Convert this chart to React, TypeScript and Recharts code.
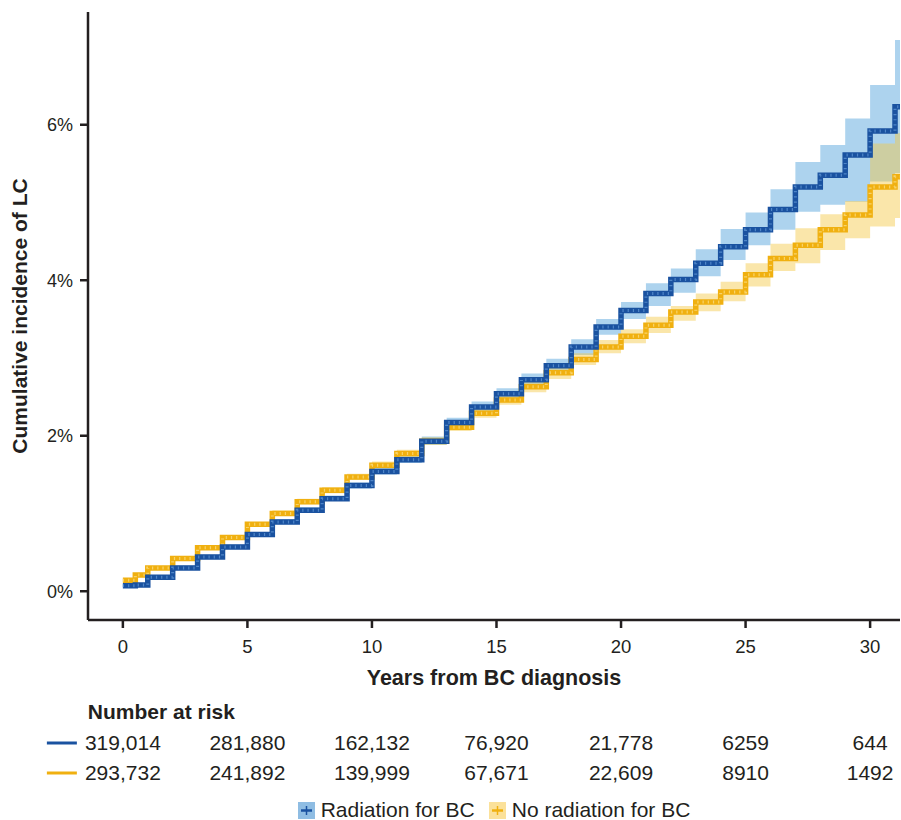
import { ComposedChart, Area, Line, XAxis, YAxis, Legend } from "recharts";

const YEARS = [0, 0.5, 1, 2, 3, 4, 5, 6, 7, 8, 9, 10, 11, 12, 13, 14, 15, 16, 17, 18, 19, 20, 21, 22, 23, 24, 25, 26, 27, 28, 29, 30, 31, 31.2];

// cumulative incidence (%) - radiation for BC
const RAD = [0.07, 0.08, 0.18, 0.3, 0.44, 0.57, 0.73, 0.89, 1.04, 1.19, 1.36, 1.54, 1.69, 1.93, 2.17, 2.37, 2.54, 2.72, 2.9, 3.14, 3.4, 3.61, 3.83, 4.01, 4.22, 4.43, 4.65, 4.91, 5.2, 5.35, 5.61, 5.92, 6.23, 6.23];
const RAD_LO = [0.05, 0.06, 0.16, 0.28, 0.42, 0.55, 0.7, 0.86, 1.01, 1.16, 1.32, 1.5, 1.65, 1.88, 2.12, 2.31, 2.47, 2.64, 2.81, 3.04, 3.3, 3.5, 3.67, 3.84, 4.05, 4.26, 4.45, 4.65, 4.88, 4.97, 5.01, 5.27, 5.38, 5.38];
const RAD_HI = [0.09, 0.1, 0.21, 0.33, 0.47, 0.6, 0.76, 0.93, 1.08, 1.23, 1.4, 1.59, 1.74, 1.99, 2.23, 2.44, 2.61, 2.8, 2.99, 3.24, 3.5, 3.72, 3.96, 4.15, 4.4, 4.66, 4.87, 5.17, 5.52, 5.74, 6.08, 6.51, 7.09, 7.09];

// no radiation for BC
const NORAD = [0.14, 0.21, 0.3, 0.42, 0.56, 0.69, 0.86, 1.0, 1.15, 1.3, 1.47, 1.62, 1.77, 1.93, 2.11, 2.29, 2.46, 2.63, 2.81, 2.98, 3.14, 3.28, 3.42, 3.59, 3.72, 3.85, 4.07, 4.28, 4.45, 4.65, 4.84, 5.2, 5.33, 5.33];
const NORAD_LO = [0.12, 0.19, 0.28, 0.4, 0.53, 0.66, 0.83, 0.97, 1.12, 1.26, 1.43, 1.58, 1.73, 1.88, 2.06, 2.23, 2.4, 2.56, 2.73, 2.91, 3.06, 3.19, 3.32, 3.48, 3.6, 3.73, 3.92, 4.12, 4.22, 4.39, 4.54, 4.69, 4.8, 4.8];
const NORAD_HI = [0.16, 0.23, 0.32, 0.45, 0.59, 0.72, 0.89, 1.04, 1.19, 1.34, 1.51, 1.67, 1.82, 1.98, 2.16, 2.35, 2.53, 2.71, 2.9, 3.06, 3.23, 3.37, 3.53, 3.67, 3.83, 3.98, 4.22, 4.47, 4.67, 4.85, 5.02, 5.76, 5.89, 5.89];

const X_TICKS = [0, 5, 10, 15, 20, 25, 30];
const Y_TICKS = [0, 2, 4, 6];

const RISK_RAD = ["319,014", "281,880", "162,132", "76,920", "21,778", "6259", "644"];
const RISK_NORAD = ["293,732", "241,892", "139,999", "67,671", "22,609", "8910", "1492"];

const BLUE = "#1a52a0";
const YELLOW = "#f0b010";
const AXIS = "#231f20";
const FONT = "'Liberation Sans', Arial, Helvetica, sans-serif";
const X_DOMAIN = [-1.4, 31.2];

const data = YEARS.map((t, i) => ({
  t,
  rad: RAD[i],
  radBand: [RAD_LO[i], RAD_HI[i]],
  norad: NORAD[i],
  noradBand: [NORAD_LO[i], NORAD_HI[i]],
}));

function RiskTick(props: any) {
  const { x, y, payload, labels, color, first } = props;
  const i = X_TICKS.indexOf(payload.value);
  if (i < 0) return null;
  const base = first ? 55 : 23;
  return (
    <g>
      {first && i === 0 && (
        <text x={x - 35} y={y + 24} fontSize={21} fontWeight="bold" fill={AXIS} fontFamily={FONT}>
          Number at risk
        </text>
      )}
      {i === 0 && (
        <line x1={x - 76} x2={x - 46} y1={y + base - 7} y2={y + base - 7} stroke={color} strokeWidth={3} />
      )}
      <text x={x} y={y + base} textAnchor="middle" fontSize={21} fill={AXIS} fontFamily={FONT}>
        {labels[i]}
      </text>
    </g>
  );
}

function LegendIcon({ fill, stroke }: { fill: string; stroke: string }) {
  return (
    <svg width={17} height={17} style={{ marginRight: 6 }}>
      <rect x={0} y={0} width={17} height={17} fill={fill} />
      <line x1={3} x2={14} y1={8.5} y2={8.5} stroke={stroke} strokeWidth={2.5} />
      <line x1={8.5} x2={8.5} y1={4} y2={13} stroke={stroke} strokeWidth={1.5} />
    </svg>
  );
}

function LegendContent() {
  return (
    <div
      style={{
        display: "flex",
        justifyContent: "center",
        alignItems: "center",
        height: 30,
        paddingTop: 10,
        boxSizing: "border-box",
        fontFamily: FONT,
        fontSize: 21,
        color: AXIS,
      }}
    >
      <LegendIcon fill="#8fbde3" stroke={BLUE} />
      <span style={{ marginRight: 14 }}>Radiation for BC</span>
      <LegendIcon fill="#fbe19a" stroke={YELLOW} />
      <span>No radiation for BC</span>
    </div>
  );
}

export default function App() {
  return (
    <div style={{ position: "absolute", left: 0, top: 0, width: 901, height: 820, background: "#fff" }}>
      <ComposedChart
        width={901}
        height={820}
        data={data}
        margin={{ top: 12, right: 1, bottom: 0, left: 0 }}
      >
        <XAxis
          xAxisId={0}
          dataKey="t"
          type="number"
          domain={X_DOMAIN}
          allowDataOverflow
          ticks={X_TICKS}
          height={75}
          stroke={AXIS}
          strokeWidth={2.5}
          tickSize={8}
          tickMargin={12}
          tick={{ fontSize: 18.5, fill: AXIS, fontFamily: FONT }}
          label={{
            value: "Years from BC diagnosis",
            position: "insideBottom",
            offset: 10,
            style: { fontSize: 21.5, fontWeight: "bold", fill: AXIS, fontFamily: FONT },
          }}
        />
        <XAxis
          xAxisId="risk1"
          dataKey="t"
          type="number"
          domain={X_DOMAIN}
          allowDataOverflow
          ticks={X_TICKS}
          height={62}
          axisLine={false}
          tickLine={false}
          tickSize={0}
          tickMargin={0}
          interval={0}
          tick={(p: any) => <RiskTick {...p} labels={RISK_RAD} color={BLUE} first />}
        />
        <XAxis
          xAxisId="risk2"
          dataKey="t"
          type="number"
          domain={X_DOMAIN}
          allowDataOverflow
          ticks={X_TICKS}
          height={33}
          axisLine={false}
          tickLine={false}
          tickSize={0}
          tickMargin={0}
          interval={0}
          tick={(p: any) => <RiskTick {...p} labels={RISK_NORAD} color={YELLOW} />}
        />
        <YAxis
          type="number"
          domain={[-0.37, 7.45]}
          allowDataOverflow
          ticks={Y_TICKS}
          width={88}
          stroke={AXIS}
          strokeWidth={2.5}
          tickSize={8}
          tickMargin={7}
          tickFormatter={(v) => `${v}%`}
          tick={{ fontSize: 18, fill: AXIS, fontFamily: FONT }}
          label={{
            value: "Cumulative incidence of LC",
            angle: -90,
            position: "insideLeft",
            offset: 20,
            style: { textAnchor: "middle", fontSize: 21, fontWeight: "bold", fill: AXIS, fontFamily: FONT },
          }}
        />
        <Legend verticalAlign="bottom" height={30} content={<LegendContent />} wrapperStyle={{ left: 88, width: 812 }} />
        <Area
          dataKey="radBand"
          type="stepAfter"
          stroke="none"
          fill="#6aaee0"
          fillOpacity={0.55}
          isAnimationActive={false}
        />
        <Area
          dataKey="noradBand"
          type="stepAfter"
          stroke="none"
          fill="#f5c842"
          fillOpacity={0.45}
          isAnimationActive={false}
        />
        {/* hidden series so the risk-table axes share the main x scale */}
        <Line xAxisId="risk1" dataKey="rad" stroke="none" dot={false} legendType="none" isAnimationActive={false} />
        <Line xAxisId="risk2" dataKey="norad" stroke="none" dot={false} legendType="none" isAnimationActive={false} />
        <Line
          dataKey="norad"
          type="stepAfter"
          stroke={YELLOW}
          strokeWidth={5.5}
          dot={false}
          isAnimationActive={false}
        />
        <Line
          dataKey="norad"
          type="stepAfter"
          stroke="#f8d36a"
          strokeWidth={3}
          strokeDasharray="1.2 4"
          dot={false}
          legendType="none"
          isAnimationActive={false}
        />
        <Line
          dataKey="rad"
          type="stepAfter"
          stroke={BLUE}
          strokeWidth={5.5}
          dot={false}
          isAnimationActive={false}
        />
        <Line
          dataKey="rad"
          type="stepAfter"
          stroke="#4f86c8"
          strokeWidth={3}
          strokeDasharray="1.2 4"
          dot={false}
          legendType="none"
          isAnimationActive={false}
        />
      </ComposedChart>
    </div>
  );
}
